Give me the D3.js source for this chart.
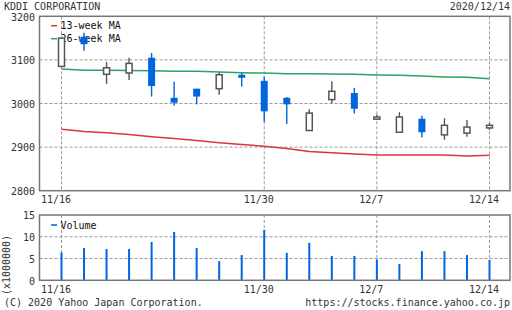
<!DOCTYPE html>
<html>
<head>
<meta charset="utf-8">
<script src="https://cdn.jsdelivr.net/npm/d3@7"></script>
<style>
  body { margin: 0; background: #fff; }
  svg text { font-family: "DejaVu Sans Mono", monospace; font-size: 10px; }
</style>
</head>
<body>
<div id="chart"></div>
<script>
// daily candles, trading days only (11/23 holiday)
const dates = ["11/16","11/17","11/18","11/19","11/20","11/24","11/25","11/26","11/27","11/30",
  "12/1","12/2","12/3","12/4","12/7","12/8","12/9","12/10","12/11","12/14"];
const open  = [3085,3153,3067,3070,3105,3013,3034,3034,3066,3052,3013,2938,3009,3024,2964,2934,2965,2928,2932,2944];
const high  = [3150,3162,3095,3105,3116,3050,3034,3071,3070,3062,3015,2987,3051,3036,2975,2980,2972,2966,2962,2955];
const low   = [3085,3121,3045,3054,3016,2995,2998,3020,3039,2958,2953,2938,3000,2977,2962,2934,2922,2917,2924,2939];
const close = [3150,3136,3082,3092,3040,3002,3016,3066,3059,2982,2998,2978,3028,2988,2969,2969,2934,2950,2946,2950];
const ma13  = [2941,2936,2933,2929,2924,2920,2915,2910,2906,2902,2897,2890,2887,2884,2882,2882,2882,2882,2879.5,2881.5];
const ma26  = [3079,3076,3076,3075.5,3075,3074,3074,3072,3070.5,3070,3068,3068,3067.5,3067,3065.5,3065,3063,3061,3060,3057];
const volume = [6.4,7.4,7.2,7.2,8.8,11.1,7.4,4.4,5.8,11.6,6.3,8.6,5.6,5.6,4.8,3.75,6.7,6.7,5.8,4.7]; // x1000000
const xTicks = ["11/16","11/30","12/7","12/14"];
const priceTicks = [2800,2900,3000,3100,3200];
const volTicks = [0,5,10,15];

const W = 512, H = 310;
const blue = "#0066dd", gray = "#555", grid = "#999", txt = "#333";

const svg = d3.select("#chart").append("svg").attr("width", W).attr("height", H);

const x = d3.scalePoint().domain(dates).range([61.5, 489.5]);
const y = d3.scaleLinear().domain([2800, 3200]).range([190.7, 16.3]);
const yv = d3.scaleLinear().domain([0, 15]).range([280.3, 215]);

const left = 39.5, right = 510;

// header
svg.append("text").attr("x", 4).attr("y", 10).attr("fill", txt).text("KDDI CORPORATION");
svg.append("text").attr("x", 510).attr("y", 10).attr("text-anchor", "end").attr("fill", txt).text("2020/12/14");

// grid lines, main panel
const gMain = svg.append("g");
gMain.selectAll(".hg").data(priceTicks.filter(d => d > 2800 && d < 3200)).join("line")
  .attr("x1", left).attr("x2", right).attr("y1", d => y(d)).attr("y2", d => y(d))
  .attr("stroke", grid).attr("stroke-dasharray", "3,2");
gMain.selectAll(".vg").data(xTicks).join("line")
  .attr("x1", d => x(d)).attr("x2", d => x(d)).attr("y1", y(3200)).attr("y2", y(2800))
  .attr("stroke", grid).attr("stroke-dasharray", "3,2");

// y axis labels
gMain.selectAll(".yl").data(priceTicks).join("text")
  .attr("x", 35).attr("y", d => y(d) + 4.3).attr("text-anchor", "end").attr("fill", txt).text(d => d);
// x axis labels
gMain.selectAll(".xl").data(xTicks).join("text")
  .attr("x", d => x(d) - 5.5).attr("y", 203).attr("text-anchor", "middle").attr("fill", txt).text(d => d);

// legend (drawn under candles)
const legend = [["13-week MA", "#e0323a", 25.7], ["26-week MA", "#2aa462", 38.7]];
legend.forEach(([name, col, ly]) => {
  svg.append("line").attr("x1", 51).attr("x2", 57).attr("y1", ly).attr("y2", ly).attr("stroke", col).attr("stroke-width", 1.5);
  svg.append("text").attr("x", 60.5).attr("y", ly + 3.6).attr("fill", "#111").text(name);
});

// moving averages
const maLine = d3.line().x((d, i) => x(dates[i])).y(d => y(d));
svg.append("path").datum(ma13).attr("d", maLine).attr("fill", "none").attr("stroke", "#e0323a").attr("stroke-width", 1.5);
svg.append("path").datum(ma26).attr("d", maLine).attr("fill", "none").attr("stroke", "#2aa462").attr("stroke-width", 1.5);

// candles
const candles = svg.append("g").selectAll("g").data(dates).join("g");
candles.append("line")
  .attr("x1", d => x(d)).attr("x2", d => x(d))
  .attr("y1", (d, i) => y(high[i])).attr("y2", (d, i) => y(low[i]))
  .attr("stroke", (d, i) => close[i] >= open[i] ? gray : blue).attr("stroke-width", 1.4);
candles.each(function (d, i) {
  const up = close[i] >= open[i];
  const top = y(Math.max(open[i], close[i])), bot = y(Math.min(open[i], close[i]));
  if (up) {
    d3.select(this).append("rect")
      .attr("x", x(d) - 3).attr("width", 6).attr("y", top).attr("height", Math.max(bot - top, 1))
      .attr("fill", "#fff").attr("stroke", gray).attr("stroke-width", 1.5);
  } else {
    d3.select(this).append("rect")
      .attr("x", x(d) - 3.5).attr("width", 7).attr("y", top).attr("height", Math.max(bot - top, 1))
      .attr("fill", blue);
  }
});

// main border
svg.append("rect").attr("x", left).attr("y", y(3200)).attr("width", right - left).attr("height", y(2800) - y(3200))
  .attr("fill", "none").attr("stroke", "#777").attr("stroke-width", 1.5);

// volume panel
const gVol = svg.append("g");
gVol.selectAll(".hg").data([5, 10]).join("line")
  .attr("x1", left).attr("x2", right).attr("y1", d => yv(d)).attr("y2", d => yv(d))
  .attr("stroke", grid).attr("stroke-dasharray", "3,2");
gVol.selectAll(".vg").data(xTicks).join("line")
  .attr("x1", d => x(d)).attr("x2", d => x(d)).attr("y1", yv(15)).attr("y2", yv(0))
  .attr("stroke", grid).attr("stroke-dasharray", "3,2");
gVol.selectAll(".yl").data(volTicks).join("text")
  .attr("x", 35).attr("y", d => yv(d) + 4.3).attr("text-anchor", "end").attr("fill", txt).text(d => d);
gVol.selectAll(".xl").data(xTicks).join("text")
  .attr("x", d => x(d) - 5.5).attr("y", 292.5).attr("text-anchor", "middle").attr("fill", txt).text(d => d);
gVol.append("text").attr("transform", "translate(10,265) rotate(-90)").attr("text-anchor", "middle")
  .attr("fill", txt).text("(x1000000)");

gVol.append("line").attr("x1", 51).attr("x2", 57).attr("y1", 225).attr("y2", 225).attr("stroke", blue).attr("stroke-width", 1.5);
gVol.append("text").attr("x", 60.5).attr("y", 228.6).attr("fill", "#111").text("Volume");

gVol.selectAll(".vb").data(dates).join("rect")
  .attr("x", d => x(d) - 1).attr("width", 2)
  .attr("y", (d, i) => yv(volume[i])).attr("height", (d, i) => yv(0) - yv(volume[i]))
  .attr("fill", blue);

gVol.append("rect").attr("x", left).attr("y", yv(15)).attr("width", right - left).attr("height", yv(0) - yv(15))
  .attr("fill", "none").attr("stroke", "#777").attr("stroke-width", 1.5);

// footer
svg.append("text").attr("x", 4).attr("y", 306).attr("fill", txt).text("(C) 2020 Yahoo Japan Corporation.");
svg.append("text").attr("x", 510).attr("y", 306).attr("text-anchor", "end").attr("fill", txt).text("https://stocks.finance.yahoo.co.jp");
</script>
</body>
</html>
